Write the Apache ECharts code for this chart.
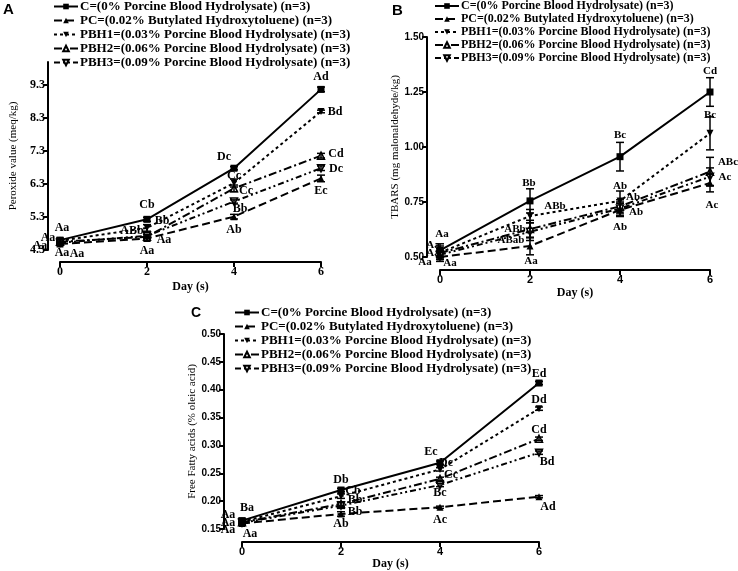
<!DOCTYPE html>
<html><head><meta charset="utf-8">
<script src="https://cdn.jsdelivr.net/npm/echarts@6/dist/echarts.min.js"></script>
<style>html,body{margin:0;padding:0;background:#fff}#c{width:738px;height:571px}</style>
</head><body><div id="c"></div>
<script>
// ---------- DATA ----------
const days = [0, 2, 4, 6];
const seriesNames = [
  'C=(0% Porcine Blood Hydrolysate) (n=3)',
  'PC=(0.02% Butylated Hydroxytoluene) (n=3)',
  'PBH1=(0.03% Porcine Blood Hydrolysate) (n=3)',
  'PBH2=(0.06% Porcine Blood Hydrolysate) (n=3)',
  'PBH3=(0.09% Porcine Blood Hydrolysate) (n=3)'
];
const xTicks = [0, 2, 4, 6];

// Panel A: Peroxide value (meq/kg)
const pvC    = [4.60, 5.23, 6.78, 9.17];
const pvPC   = [4.48, 4.65, 5.31, 6.47];
const pvPBH1 = [4.58, 4.97, 6.33, 8.50];
const pvPBH2 = [4.55, 4.70, 6.17, 7.16];
const pvPBH3 = [4.52, 4.73, 5.77, 6.78];
const pvErrC    = [0.06, 0.06, 0.05, 0.07];
const pvErrPC   = [0.05, 0.07, 0.07, 0.10];
const pvErrPBH1 = [0.05, 0.10, 0.12, 0.04];
const pvErrPBH2 = [0.05, 0.06, 0.10, 0.07];
const pvErrPBH3 = [0.05, 0.05, 0.05, 0.07];
const pvLetC    = ['Aa', 'Cb', 'Dc', 'Ad'];
const pvLetPC   = ['Aa', 'Aa', 'Ab', 'Ec'];
const pvLetPBH1 = ['Aa', 'Bb', 'Cc', 'Bd'];
const pvLetPBH2 = ['Aa', 'Aa', 'Cc', 'Cd'];
const pvLetPBH3 = ['Aa', 'ABb', 'Bb', 'Dc'];
const pvYTicks = [4.3, 5.3, 6.3, 7.3, 8.3, 9.3];

// Panel B: TBARS (mg malonaldehyde/kg)
const tbC    = [0.530, 0.755, 0.956, 1.250];
const tbPC   = [0.500, 0.550, 0.714, 0.836];
const tbPBH1 = [0.520, 0.686, 0.755, 1.062];
const tbPBH2 = [0.518, 0.627, 0.730, 0.888];
const tbPBH3 = [0.510, 0.615, 0.720, 0.865];
const tbErrC    = [0.030, 0.055, 0.065, 0.065];
const tbErrPC   = [0.020, 0.040, 0.030, 0.040];
const tbErrPBH1 = [0.030, 0.030, 0.045, 0.075];
const tbErrPBH2 = [0.020, 0.040, 0.030, 0.065];
const tbErrPBH3 = [0.020, 0.040, 0.030, 0.040];
const tbLetC    = ['Aa', 'Bb', 'Bc', 'Cd'];
const tbLetPC   = ['Aa', 'Aa', 'Ab', 'Ac'];
const tbLetPBH1 = ['Aa', 'ABb', 'Ab', 'Bc'];
const tbLetPBH2 = ['Aa', 'ABb', 'Ab', 'ABc'];
const tbLetPBH3 = ['Aa', 'ABab', 'Ab', 'Ac'];
const tbYTicks = [0.50, 0.75, 1.00, 1.25, 1.50];

// Panel C: Free Fatty acids (% oleic acid)
const ffC    = [0.165, 0.220, 0.269, 0.412];
const ffPC   = [0.160, 0.177, 0.189, 0.208];
const ffPBH1 = [0.163, 0.209, 0.257, 0.366];
const ffPBH2 = [0.162, 0.195, 0.240, 0.312];
const ffPBH3 = [0.161, 0.192, 0.229, 0.287];
const ffErrC    = [0.004, 0.003, 0.003, 0.003];
const ffErrPC   = [0.003, 0.004, 0.002, 0.002];
const ffErrPBH1 = [0.003, 0.004, 0.003, 0.003];
const ffErrPBH2 = [0.003, 0.004, 0.003, 0.003];
const ffErrPBH3 = [0.003, 0.005, 0.003, 0.003];
const ffLetC    = ['Ba', 'Db', 'Ec', 'Ed'];
const ffLetPC   = ['Aa', 'Ab', 'Ac', 'Ad'];
const ffLetPBH1 = ['Aa', 'Cb', 'Dc', 'Dd'];
const ffLetPBH2 = ['Aa', 'Bb', 'Cc', 'Cd'];
const ffLetPBH3 = ['Aa', 'Bb', 'Bc', 'Bd'];
const ffYTicks = [0.15, 0.20, 0.25, 0.30, 0.35, 0.40, 0.45, 0.50];

// ---------- STYLE (label pixel offsets, per series per day) ----------
const pvOff = [
  [[2,-12],[0,-14],[-10,-11],[0,-12]],
  [[2,9],[0,12],[0,13],[0,12]],
  [[-12,-3],[15,-7],[0,-7],[14,0]],
  [[-20,4],[17,3],[12,3],[15,-2]],
  [[17,11],[-15,-5],[6,7],[15,1]]
];
const tbOff = [
  [[2,-16],[-1,-18],[0,-22],[0,-21]],
  [[10,6],[1,15],[0,17],[2,22]],
  [[-7,-7],[25,-10],[0,-15],[0,-18]],
  [[-7,0],[-15,0],[13,-9],[18,-9]],
  [[-15,7],[-19,8],[16,4],[15,0]]
];
const ffOff = [
  [[5,-13],[0,-10],[-9,-11],[0,-9]],
  [[8,10],[0,10],[0,13],[9,10]],
  [[-14,-7],[12,-5],[6,-6],[0,-9]],
  [[-14,1],[14,-4],[11,-4],[0,-9]],
  [[-14,7],[14,6],[0,8],[8,9]]
];

const downTri = 'path://M0,0 L10,0 L5,9 Z';
const styles = [
  {symbol: 'rect', size: 7, fill: '#000', dash: 'solid'},
  {symbol: 'triangle', size: 7, fill: '#000', dash: [8, 4]},
  {symbol: downTri, size: 7, fill: '#000', dash: [3, 3]},
  {symbol: 'triangle', size: 7, fill: '#fff', dash: [8, 3, 2, 3]},
  {symbol: downTri, size: 7, fill: '#fff', dash: [6, 3, 2, 3, 2, 3]}
];

const panels = [
  {vals: [pvC, pvPC, pvPBH1, pvPBH2, pvPBH3], errs: [pvErrC, pvErrPC, pvErrPBH1, pvErrPBH2, pvErrPBH3],
   lets: [pvLetC, pvLetPC, pvLetPBH1, pvLetPBH2, pvLetPBH3], off: pvOff, labelFont: 12},
  {vals: [tbC, tbPC, tbPBH1, tbPBH2, tbPBH3], errs: [tbErrC, tbErrPC, tbErrPBH1, tbErrPBH2, tbErrPBH3],
   lets: [tbLetC, tbLetPC, tbLetPBH1, tbLetPBH2, tbLetPBH3], off: tbOff, labelFont: 11},
  {vals: [ffC, ffPC, ffPBH1, ffPBH2, ffPBH3], errs: [ffErrC, ffErrPC, ffErrPBH1, ffErrPBH2, ffErrPBH3],
   lets: [ffLetC, ffLetPC, ffLetPBH1, ffLetPBH2, ffLetPBH3], off: ffOff, labelFont: 12}
];

const SERIF = '"Liberation Serif", "Times New Roman", serif';
const SANS = '"Liberation Sans", Arial, sans-serif';

const series = [];
panels.forEach((p, pi) => {
  p.vals.forEach((vals, si) => {
    const st = styles[si];
    series.push({
      type: 'line', name: seriesNames[si], xAxisIndex: pi, yAxisIndex: pi,
      data: days.map((d, i) => [d, vals[i]]),
      symbol: st.symbol, symbolSize: st.size, showAllSymbol: true,
      itemStyle: {color: st.fill, borderColor: '#000', borderWidth: st.fill === '#fff' ? 1.5 : 0},
      lineStyle: {color: '#000', width: 2, type: st.dash},
      z: 3, animation: false
    });
  });
  // error bars
  const ebData = [];
  p.vals.forEach((vals, si) => {
    days.forEach((d, i) => ebData.push([d, vals[i] - p.errs[si][i], vals[i] + p.errs[si][i]]));
  });
  series.push({
    type: 'custom', xAxisIndex: pi, yAxisIndex: pi, data: ebData, z: 4, silent: true, animation: false,
    renderItem: (params, api) => {
      const lo = api.coord([api.value(0), api.value(1)]);
      const hi = api.coord([api.value(0), api.value(2)]);
      const w = 4;
      const s = {stroke: '#000', lineWidth: 1.5};
      return {type: 'group', children: [
        {type: 'line', shape: {x1: lo[0], y1: lo[1], x2: hi[0], y2: hi[1]}, style: s},
        {type: 'line', shape: {x1: lo[0] - w, y1: lo[1], x2: lo[0] + w, y2: lo[1]}, style: s},
        {type: 'line', shape: {x1: hi[0] - w, y1: hi[1], x2: hi[0] + w, y2: hi[1]}, style: s}
      ]};
    }
  });
  // letter annotations
  const lbData = [];
  p.vals.forEach((vals, si) => {
    days.forEach((d, i) => lbData.push([d, vals[i], p.lets[si][i], p.off[si][i][0], p.off[si][i][1]]));
  });
  series.push({
    type: 'custom', xAxisIndex: pi, yAxisIndex: pi, data: lbData, z: 5, silent: true, animation: false,
    renderItem: (params, api) => {
      const c = api.coord([api.value(0), api.value(1)]);
      const item = lbData[params.dataIndex];
      return {type: 'text', x: c[0] + item[3], y: c[1] + item[4],
        style: {text: item[2], fill: '#000', font: 'bold ' + p.labelFont + 'px ' + SERIF,
          align: 'center', verticalAlign: 'middle'}};
    }
  });
});

function yAxis(gi, min, max, ticks, dec, name, gap, offset, labelFont) {
  return {
    gridIndex: gi, type: 'value', min: min, max: max, offset: offset, position: 'left',
    axisLine: {show: true, onZero: false, lineStyle: {color: '#000', width: 2}},
    axisTick: {show: true, length: 5, lineStyle: {color: '#000', width: 2}, customValues: ticks},
    axisLabel: {customValues: ticks, formatter: v => v.toFixed(dec), color: '#000', margin: 3,
      fontFamily: labelFont, fontWeight: 'bold', fontSize: labelFont === SERIF ? 12 : 10},
    splitLine: {show: false},
    name: name, nameLocation: 'middle', nameGap: gap,
    nameTextStyle: {fontFamily: SERIF, fontSize: 11, color: '#000'}
  };
}
function xAxis(gi, offset, labelFont, gap) {
  return {
    gridIndex: gi, type: 'value', min: 0, max: 6, interval: 2, offset: offset, position: 'bottom',
    axisLine: {show: true, onZero: false, lineStyle: {color: '#000', width: 2}},
    axisTick: {show: true, length: 5, lineStyle: {color: '#000', width: 2}},
    axisLabel: {color: '#000', margin: 4, fontFamily: labelFont, fontWeight: 'bold',
      fontSize: labelFont === SERIF ? 12 : 11},
    splitLine: {show: false},
    name: 'Day (s)', nameLocation: 'middle', nameGap: gap,
    nameTextStyle: {fontFamily: SERIF, fontWeight: 'bold', fontSize: 12, color: '#000'}
  };
}

const legendBase = (left, top, fs) => ({
  orient: 'vertical', left: left, top: top, itemWidth: 24, itemHeight: 7, itemGap: 1,
  padding: 0, data: seriesNames, selectedMode: false,
  textStyle: {fontFamily: SERIF, fontWeight: 'bold', fontSize: fs, color: '#000', padding: [0, 0, 0, -3]}
});

const option = {
  animation: false,
  backgroundColor: '#fff',
  title: [
    {text: 'A', left: 3, top: 2, padding: 0, textStyle: {fontFamily: SANS, fontWeight: 'bold', fontSize: 15, color: '#000'}},
    {text: 'B', left: 392, top: 3, padding: 0, textStyle: {fontFamily: SANS, fontWeight: 'bold', fontSize: 15, color: '#000'}},
    {text: 'C', left: 191, top: 306, padding: 0, textStyle: {fontFamily: SANS, fontWeight: 'bold', fontSize: 14, color: '#000'}}
  ],
  legend: [legendBase(53, 0, 13), legendBase(434, 0, 12), legendBase(234, 306, 13)],
  grid: [
    {left: 60, width: 261, top: 62, height: 188},
    {left: 440, width: 270, top: 37, height: 220},
    {left: 242, width: 297, top: 334, height: 196}
  ],
  xAxis: [xAxis(0, 12, SERIF, 19), xAxis(1, 13, SANS, 17), xAxis(2, 13, SANS, 16)],
  yAxis: [
    yAxis(0, 4.3, 10, pvYTicks, 1, 'Peroxide value (meq/kg)', 29, 12, SERIF),
    yAxis(1, 0.5, 1.5, tbYTicks, 2, 'TBARS (mg malonaldehyde/kg)', 20, 13, SANS),
    yAxis(2, 0.15, 0.5, ffYTicks, 2, 'Free Fatty acids (% oleic acid)', 22, 18, SANS)
  ],
  series: series
};
echarts.init(document.getElementById('c'), null, {renderer: 'canvas'}).setOption(option);
</script></body></html>
